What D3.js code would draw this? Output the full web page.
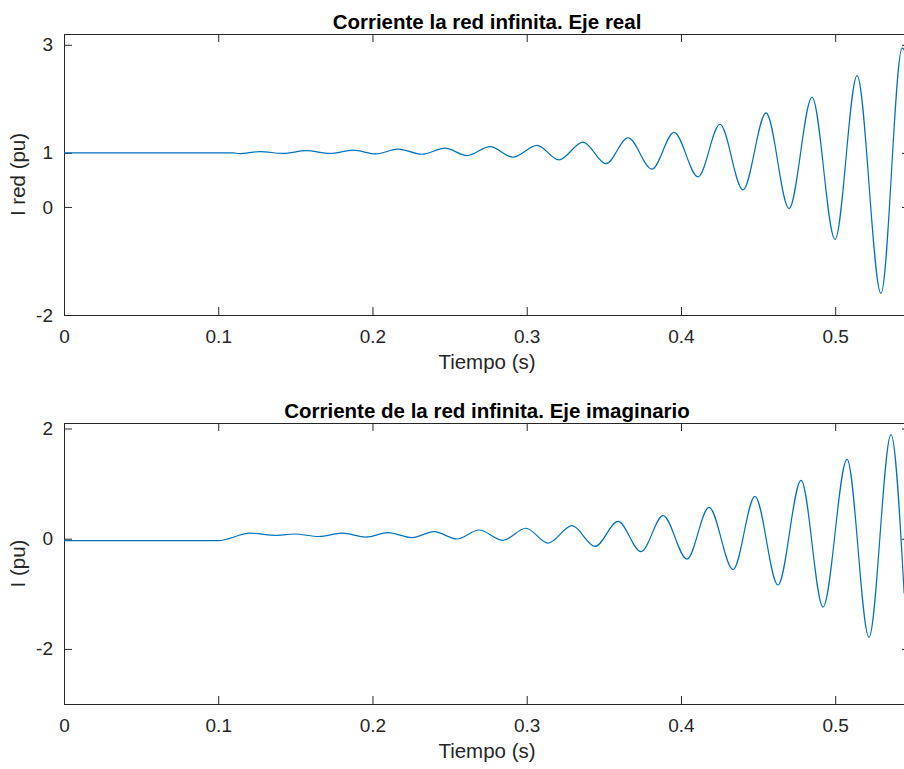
<!DOCTYPE html>
<html>
<head>
<meta charset="utf-8">
<script src="https://cdn.jsdelivr.net/npm/d3@7.9.0/dist/d3.min.js"></script>
<style>
  body { margin: 0; background: #fff; }
  svg { display: block; font-family: "Liberation Sans", Arial, Helvetica, sans-serif; }
</style>
</head>
<body>
<svg id="chart" width="904" height="769"></svg>
<script>
// values (time in s, current in pu), peaks and troughs
const realTime = [0, 0.1096, 0.1135, 0.1271, 0.142, 0.157, 0.1725, 0.1874, 0.2023, 0.2166, 0.2321,
  0.247, 0.2613, 0.2762, 0.2911, 0.3067, 0.3209, 0.3365, 0.3514, 0.3657, 0.3812, 0.3955, 0.4111,
  0.4253, 0.4402, 0.4552, 0.4701, 0.485, 0.4999, 0.5142, 0.5297, 0.5434, 0.5460];
const realValue = [1, 1, 0.987, 1.024, 0.99, 1.04, 0.99, 1.05, 0.98, 1.07, 0.975,
  1.087, 0.95, 1.117, 0.92, 1.14, 0.87, 1.20, 0.80, 1.28, 0.70, 1.38, 0.556,
  1.53, 0.315, 1.74, -0.03, 2.03, -0.60, 2.43, -1.60, 2.94, 2.85];

const imagTime = [0, 0.0999, 0.1206, 0.1381, 0.1491, 0.1653, 0.1802, 0.1958, 0.2101, 0.2256, 0.2399,
  0.2548, 0.2691, 0.2846, 0.2995, 0.3138, 0.3294, 0.3443, 0.3592, 0.3741, 0.3884, 0.4039, 0.4182,
  0.4338, 0.448, 0.4629, 0.4779, 0.4921, 0.5077, 0.5219, 0.5362, 0.5447];
const imagValue = [-0.036, -0.036, 0.10, 0.06, 0.085, 0.04, 0.10, 0.03, 0.11, 0.02, 0.127,
  -0.005, 0.158, -0.03, 0.19, -0.08, 0.236, -0.14, 0.315, -0.236, 0.42, -0.37, 0.57,
  -0.56, 0.77, -0.84, 1.06, -1.24, 1.44, -1.79, 1.89, -0.99];

const xTicks = [0, 0.1, 0.2, 0.3, 0.4, 0.5];
const realYTicks = [-2, 0, 1, 3];
const imagYTicks = [-2, 0, 2];

const panels = [
  { title: "Corriente la red infinita. Eje real", ylabel: "I red (pu)",
    t: realTime, v: realValue, yDomain: [-2, 3.2], yTicks: realYTicks, top: 34 },
  { title: "Corriente de la red infinita. Eje imaginario", ylabel: "I (pu)",
    t: imagTime, v: imagValue, yDomain: [-3, 2.1], yTicks: imagYTicks, top: 423 }
];

const svg = d3.select("#chart");
const left = 64, right = 910, h = 281;
const axisColor = "#262626";

panels.forEach((p, i) => {
  const x = d3.scaleLinear().domain([0, 0.5485]).range([left, right]);
  const y = d3.scaleLinear().domain(p.yDomain).range([p.top + h, p.top]);
  const g = svg.append("g");

  g.append("clipPath").attr("id", "clip" + i)
    .append("rect").attr("x", left).attr("y", p.top).attr("width", right - left).attr("height", h);

  const fmt = d => String(d);

  // bottom axis with inward ticks
  const xb = g.append("g").attr("transform", `translate(0,${p.top + h})`)
    .call(d3.axisBottom(x).tickValues(xTicks).tickFormat(fmt).tickSize(-8).tickSizeOuter(0).tickPadding(14.5));
  // top mirror ticks
  const xt = g.append("g").attr("transform", `translate(0,${p.top})`)
    .call(d3.axisTop(x).tickValues(xTicks).tickFormat("").tickSize(-8).tickSizeOuter(0));
  // left axis
  const yl = g.append("g").attr("transform", `translate(${left},0)`)
    .call(d3.axisLeft(y).tickValues(p.yTicks).tickFormat(fmt).tickSize(-8).tickSizeOuter(0).tickPadding(11));
  // right mirror ticks
  const yr = g.append("g").attr("transform", `translate(${right},0)`)
    .call(d3.axisRight(y).tickValues(p.yTicks).tickFormat("").tickSize(-8).tickSizeOuter(0));

  [xb, xt, yl, yr].forEach(a => {
    a.select(".domain").remove();
    a.selectAll("line").attr("stroke", axisColor);
    a.selectAll("text").attr("fill", axisColor).style("font-size", "19px");
  });

  g.append("rect")
    .attr("x", left + 0.5).attr("y", p.top + 0.5)
    .attr("width", right - left).attr("height", h)
    .attr("fill", "none").attr("stroke", axisColor).attr("stroke-width", 1);

  const pts = p.t.map((t, k) => [t, p.v[k]]);
  const line = d3.line().x(d => x(d[0])).y(d => y(d[1])).curve(d3.curveMonotoneX);
  g.append("path")
    .attr("clip-path", `url(#clip${i})`)
    .attr("d", line(pts))
    .attr("fill", "none")
    .attr("stroke", "#0072BD")
    .attr("stroke-width", 1.2);

  g.append("text")
    .attr("x", (left + right) / 2).attr("y", p.top - 5)
    .attr("text-anchor", "middle")
    .style("font-size", "20.5px").style("font-weight", "bold")
    .attr("fill", "#000")
    .text(p.title);

  g.append("text")
    .attr("x", (left + right) / 2).attr("y", p.top + h + 54)
    .attr("text-anchor", "middle")
    .style("font-size", "20.5px")
    .attr("fill", axisColor)
    .text("Tiempo (s)");

  g.append("text")
    .attr("transform", `translate(25,${p.top + h / 2}) rotate(-90)`)
    .attr("text-anchor", "middle")
    .style("font-size", "20.5px")
    .attr("fill", axisColor)
    .text(p.ylabel);
});
</script>
</body>
</html>
